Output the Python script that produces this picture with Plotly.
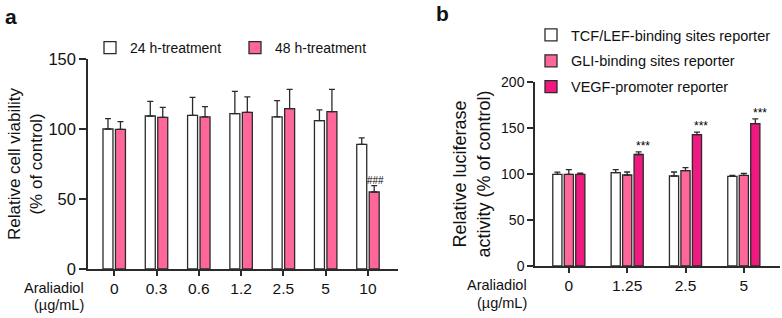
import plotly.graph_objects as go

# ---- Panel a data ----
conc_a = ["0", "0.3", "0.6", "1.2", "2.5", "5", "10"]
via_24h = [100, 109.3, 109.8, 111, 108.6, 106, 89]
via_24h_err = [7.4, 10.5, 12.8, 15.9, 11.6, 7.6, 4.6]
via_48h = [99.8, 108.3, 108.6, 111.9, 114.5, 112.4, 55]
via_48h_err = [5.4, 7.2, 7.4, 11.0, 13.8, 15.9, 4.5]
sig_a = ["", "", "", "", "", "", "###"]

# ---- Panel b data ----
conc_b = ["0", "1.25", "2.5", "5"]
tcf = [99.6, 101.4, 97.8, 97.5]
tcf_err = [2.4, 3.3, 4.4, 1.1]
gli = [99.6, 98.9, 103.6, 98.6]
gli_err = [5.1, 3.3, 3.3, 2.1]
vegf = [99.6, 121.2, 142.7, 154.7]
vegf_err = [1.4, 2.8, 2.9, 5.2]
sig_b = ["", "***", "***", "***"]

W, H = 782, 318
FONT = "Arial, Liberation Sans, sans-serif"
DARK = "#2b2b2b"
PINK = "#FF6699"
HOT = "#F0197F"

fig = go.Figure()

def eb(err):
    return dict(type="data", array=err, arrayminus=[0] * len(err), symmetric=False,
                color=DARK, thickness=1.3, width=3)

xa = list(range(len(conc_a)))
xb = list(range(len(conc_b)))

fig.add_trace(go.Bar(x=xa, y=via_24h, name="24 h-treatment", error_y=eb(via_24h_err),
                     marker=dict(color="white", line=dict(color=DARK, width=1.3)),
                     xaxis="x", yaxis="y", legend="legend", offsetgroup="a1"))
fig.add_trace(go.Bar(x=xa, y=via_48h, name="48 h-treatment", error_y=eb(via_48h_err),
                     marker=dict(color=PINK, line=dict(color=DARK, width=1.3)),
                     xaxis="x", yaxis="y", legend="legend", offsetgroup="a2"))

fig.add_trace(go.Bar(x=xb, y=tcf, name="TCF/LEF-binding sites reporter", error_y=eb(tcf_err),
                     marker=dict(color="white", line=dict(color=DARK, width=1.3)),
                     xaxis="x2", yaxis="y2", legend="legend2", offsetgroup="b1", legendgroup="g1"))
fig.add_trace(go.Bar(x=xb, y=gli, name="GLI-binding sites reporter", error_y=eb(gli_err),
                     marker=dict(color=PINK, line=dict(color=DARK, width=1.3)),
                     xaxis="x2", yaxis="y2", legend="legend2", offsetgroup="b2", legendgroup="g2"))
fig.add_trace(go.Bar(x=xb, y=vegf, name="VEGF-promoter reporter", error_y=eb(vegf_err),
                     marker=dict(color=HOT, line=dict(color=DARK, width=1.3)),
                     xaxis="x2", yaxis="y2", legend="legend2", offsetgroup="b3", legendgroup="g3"))

annotations = []
# significance marks
for i, s in enumerate(sig_a):
    if s:
        annotations.append(dict(x=i + 0.177, y=via_48h[i] + via_48h_err[i], xref="x", yref="y",
                                text=s, showarrow=False, yanchor="bottom", yshift=-2,
                                font=dict(family=FONT, size=10, color="#000")))
for i, s in enumerate(sig_b):
    if s:
        annotations.append(dict(x=i + 0.27, y=vegf[i] + vegf_err[i], xref="x2", yref="y2",
                                text=s, showarrow=False, yanchor="bottom", yshift=-3,
                                font=dict(family=FONT, size=12, color="#000")))

# panel letters
annotations.append(dict(x=3 / W, y=1 - 3 / H, xref="paper", yref="paper", text="<b>a</b>",
                        showarrow=False, xanchor="left", yanchor="top",
                        font=dict(family=FONT, size=21, color="#111")))
annotations.append(dict(x=434 / W, y=1 - 0 / H, xref="paper", yref="paper", text="<b>b</b>",
                        showarrow=False, xanchor="left", yanchor="top",
                        font=dict(family=FONT, size=21, color="#111")))

# Araliadiol labels
for xr, y1, y2 in [(86, 288, 305), (529, 285, 303)]:
    annotations.append(dict(x=xr / W, y=1 - y1 / H, xref="paper", yref="paper",
                            text="Araliadiol", showarrow=False, xanchor="right", yanchor="middle",
                            font=dict(family=FONT, size=14.5, color="#111")))
    annotations.append(dict(x=xr / W, y=1 - y2 / H, xref="paper", yref="paper",
                            text="(µg/mL)", showarrow=False, xanchor="right", yanchor="middle",
                            font=dict(family=FONT, size=14.5, color="#111")))

axis_common = dict(showline=True, linecolor=DARK, linewidth=1.5, ticks="outside",
                   tickcolor=DARK, tickwidth=1.5, showgrid=False, zeroline=False)

fig.update_layout(
    width=W, height=H,
    margin=dict(l=0, r=0, t=0, b=0, autoexpand=False),
    paper_bgcolor="white", plot_bgcolor="white",
    barmode="group",
    showlegend=True,
    annotations=annotations,
    xaxis=dict(domain=[88 / W, 398 / W], range=[-0.62, 6.71], tickmode="array",
               tickvals=xa, ticktext=conc_a, anchor="y", ticklen=5,
               tickfont=dict(family=FONT, size=15.5, color="#111"), **axis_common),
    yaxis=dict(domain=[49 / H, 259 / H], range=[0, 150], tickvals=[0, 50, 100, 150],
               anchor="x", ticklen=7, tickfont=dict(family=FONT, size=16.5, color="#111"),
               title=dict(text="Relative cell viability<br>(% of control)",
                          font=dict(family=FONT, size=17, color="#111"), standoff=1),
               **axis_common),
    xaxis2=dict(domain=[535 / W, 780 / W], range=[-0.58, 3.62], tickmode="array",
                tickvals=xb, ticktext=conc_b, anchor="y2", ticklen=5,
                tickfont=dict(family=FONT, size=15.5, color="#111"), **axis_common),
    yaxis2=dict(domain=[52 / H, 236 / H], range=[0, 200], tickvals=[0, 50, 100, 150, 200],
                anchor="x2", ticklen=6, tickfont=dict(family=FONT, size=14, color="#111"),
                title=dict(text="Relative luciferase<br>activity (% of control)",
                           font=dict(family=FONT, size=18, color="#111"), standoff=6),
                **axis_common),
    legend=dict(orientation="h", x=90 / W, y=1 - 32 / H, xanchor="left", yanchor="top",
                font=dict(family=FONT, size=14, color="#111"), bgcolor="rgba(0,0,0,0)",
                itemwidth=30, tracegroupgap=0, entrywidth=100, entrywidthmode="pixels"),
    legend2=dict(orientation="v", x=531 / W, y=1 - 19 / H, xanchor="left", yanchor="top",
                 font=dict(family=FONT, size=14.5, color="#111"), bgcolor="rgba(0,0,0,0)",
                 itemwidth=30, tracegroupgap=4),
    bargap=0.41, bargroupgap=0.2,
)

fig.write_html("out.html", config={"displayModeBar": False},
               post_script="document.body.style.margin='0';")
